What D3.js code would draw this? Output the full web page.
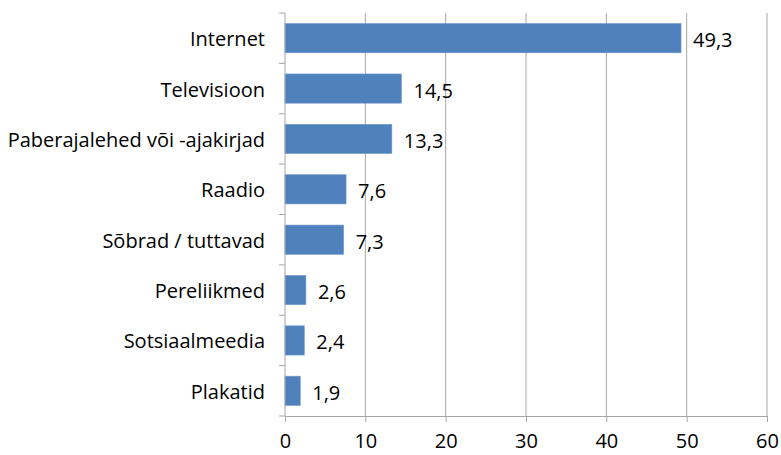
<!DOCTYPE html>
<html>
<head>
<meta charset="utf-8">
<script src="https://cdn.jsdelivr.net/npm/d3@7"></script>
<style>
  body { margin: 0; background: #fff; }
  svg text { font-family: "Open Sans", sans-serif; fill: #000; }
</style>
</head>
<body>
<svg id="chart" width="781" height="455"></svg>
<script>
// categories and values (share, %)
const categories = ['Internet', 'Televisioon', 'Paberajalehed või -ajakirjad', 'Raadio',
  'Sõbrad / tuttavad', 'Pereliikmed', 'Sotsiaalmeedia', 'Plakatid']
const values = [49.3, 14.5, 13.3, 7.6, 7.3, 2.6, 2.4, 1.9]
const xTicks = [0, 10, 20, 30, 40, 50, 60]

const data = categories.map((c, i) => ({ name: c, value: values[i] }))

const margin = { top: 13, right: 14, bottom: 39, left: 285 }
const width = 781, height = 455
const svg = d3.select('#chart')

const x = d3.scaleLinear().domain([0, 60]).range([margin.left, width - margin.right])
const y = d3.scaleBand().domain(categories).range([margin.top, height - margin.bottom]).paddingInner(0.42).paddingOuter(0.21)

const grid = '#a6a6a6'
const fs = 20
const fmt = v => String(v).replace('.', ',')

// vertical gridlines
svg.append('g').selectAll('line')
  .data(xTicks.filter(d => d > 0))
  .join('line')
  .attr('x1', d => x(d)).attr('x2', d => x(d))
  .attr('y1', margin.top).attr('y2', height - margin.bottom)
  .attr('stroke', grid).attr('stroke-width', 1)

// bars
svg.append('g').selectAll('rect')
  .data(data)
  .join('rect')
  .attr('x', x(0))
  .attr('y', d => y(d.name))
  .attr('width', d => x(d.value) - x(0))
  .attr('height', y.bandwidth())
  .attr('fill', '#4f81bd')
  .attr('stroke', '#6f98cb').attr('stroke-width', 0.6)

// value labels
svg.append('g').selectAll('text')
  .data(data)
  .join('text')
  .attr('x', d => x(d.value) + 12)
  .attr('y', d => y(d.name) + y.bandwidth() / 2)
  .attr('dy', '0.45em')
  .attr('font-size', fs)
  .text(d => fmt(d.value))

// x axis
const xAxis = svg.append('g')
  .attr('transform', `translate(0,${height - margin.bottom})`)
  .call(d3.axisBottom(x).tickValues(xTicks).tickSize(6).tickSizeOuter(0).tickPadding(12))
xAxis.select('.domain').attr('stroke', grid)
xAxis.selectAll('.tick line').attr('stroke', grid)
xAxis.selectAll('text').attr('font-size', fs).attr('font-family', '"Open Sans", sans-serif').attr('fill', '#000')

// y axis: ticks at band boundaries
const step = y.step()
const bounds = d3.range(categories.length + 1).map(i => margin.top + i * step)
const yg = svg.append('g')
yg.append('line')
  .attr('x1', x(0)).attr('x2', x(0))
  .attr('y1', margin.top).attr('y2', height - margin.bottom)
  .attr('stroke', grid)
yg.selectAll('.bt')
  .data(bounds)
  .join('line')
  .attr('class', 'bt')
  .attr('x1', x(0) - 6).attr('x2', x(0))
  .attr('y1', d => d).attr('y2', d => d)
  .attr('stroke', grid)
yg.selectAll('text')
  .data(categories)
  .join('text')
  .attr('x', x(0) - 20)
  .attr('y', d => y(d) + y.bandwidth() / 2)
  .attr('dy', '0.4em')
  .attr('text-anchor', 'end')
  .attr('font-size', fs)
  .text(d => d)
</script>
</body>
</html>
